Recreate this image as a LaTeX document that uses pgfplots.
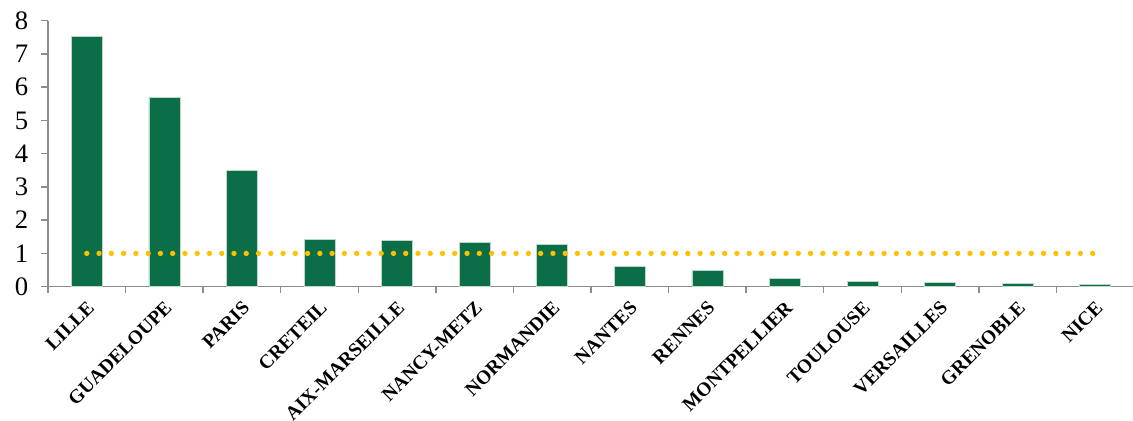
\documentclass[border=0pt]{standalone}
\usepackage{fontspec}
\setmainfont{Liberation Serif}
\usepackage{pgfplots}
\pgfplotsset{compat=1.18}
\definecolor{bargreen}{RGB}{12,110,71}
\definecolor{baredge}{RGB}{190,215,200}
\definecolor{dotyellow}{RGB}{255,192,0}
\definecolor{axgrey}{RGB}{140,140,140}
\begin{document}
\begin{tikzpicture}
\begin{axis}[
  name=a,
  scale only axis,
  width=814.5pt, height=199.5pt,
  xmin=0.5, xmax=14.5,
  ymin=0, ymax=8,
  axis lines*=left,
  axis line style={draw=axgrey, line width=1.1pt},
  xtick={1,...,14},
  xticklabels={LILLE,GUADELOUPE,PARIS,CRETEIL,AIX-MARSEILLE,NANCY-METZ,NORMANDIE,NANTES,RENNES,MONTPELLIER,TOULOUSE,VERSAILLES,GRENOBLE,NICE},
  minor xtick={0.5,1.5,...,14.5},
  ytick={0,1,...,8},
  tick align=outside,
  major tick length=5.25pt,
  minor tick length=4.5pt,
  every major x tick/.append style={draw=none},
  tick style={draw=axgrey, line width=1.1pt},
  every minor tick/.append style={draw=axgrey, line width=1.1pt},
  /pgf/number format/assume math mode=true,
  yticklabel style={font=\fontsize{20}{22}\selectfont, xshift=-6pt},
  xticklabel style={font=\bfseries\fontsize{14.6}{17}\selectfont, rotate=45, anchor=east, inner sep=1pt, xshift=-2.5pt, yshift=-8pt},
  clip=false,
]
\addplot[ybar, bar width=23.25pt, fill=bargreen, draw=baredge, line width=0.5pt]
  coordinates {(1,7.52) (2,5.70) (3,3.49) (4,1.41) (5,1.38) (6,1.34) (7,1.27) (8,0.61) (9,0.48) (10,0.26) (11,0.17) (12,0.12) (13,0.10) (14,0.08)};
\addplot[sharp plot, draw=dotyellow, line width=4pt, line cap=round, dash pattern=on 0pt off 9.2pt]
  coordinates {(1,1) (14,1)};
\end{axis}
\pgfresetboundingbox
\path ([xshift=-36pt,yshift=-100.7pt]a.south west) rectangle ([xshift=-0.75pt,yshift=15.5pt]a.north east);
\end{tikzpicture}
\end{document}
